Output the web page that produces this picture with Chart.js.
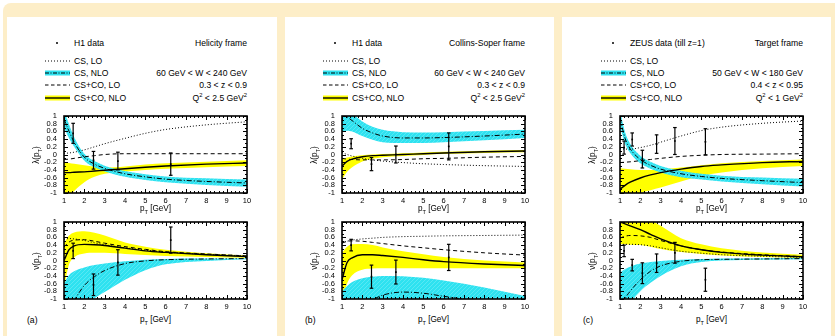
<!DOCTYPE html>
<html>
<head>
<meta charset="utf-8">
<script src="https://cdn.jsdelivr.net/npm/chart.js@4.4.1/dist/chart.umd.min.js"></script>
<style>
  html, body { margin: 0; padding: 0; background: #fff; }
  body { width: 835px; height: 336px; position: relative; overflow: hidden;
         font-family: "Liberation Sans", Arial, Helvetica, sans-serif; color: #000; }
  #bg { position: absolute; left: 3px; top: 3px; width: 860px; height: 360px; background: #fdeec8; border-radius: 8px; }
  .panel { position: absolute; top: 17px; height: 330px; background: #fff; }
  .txt { position: absolute; font-size: 8.6px; line-height: 12px; white-space: nowrap; }
  .ttl { position: absolute; font-size: 8.2px; line-height: 12px; white-space: nowrap; text-align: center; width: 80px; }
  .rot { transform: rotate(-90deg); }
  sub, sup { font-size: 68%; line-height: 0; }
  canvas, svg { position: absolute; }
  .dot { position: absolute; width: 2.4px; height: 2.4px; border-radius: 50%; background: #000; }
</style>
</head>
<body>
<div id="bg"></div>
<div class="panel" style="left:7px;width:270px"></div>
<div class="panel" style="left:285px;width:269px"></div>
<div class="panel" style="left:562px;width:269px"></div>

<script>
// pT grid for the theory curves
const ptGrid = [1, 1.25, 1.5, 2, 2.5, 3, 4, 5, 6, 8, 10];
const xTickValues = [1, 2, 3, 4, 5, 6, 7, 8, 9, 10];
const yTickValues = [-1, -0.8, -0.6, -0.4, -0.2, 0, 0.2, 0.4, 0.6, 0.8, 1];

// (a) helicity frame, H1
const aLamCsLo    = [0.03, 0.04, 0.06, 0.12, 0.2, 0.28, 0.42, 0.55, 0.65, 0.77, 0.85];
const aLamCsNlo   = [0.92, 0.6, 0.32, -0.07, -0.25, -0.36, -0.5, -0.58, -0.64, -0.7, -0.74];
const aLamCsNloHi = [1.15, 0.78, 0.45, 0.02, -0.17, -0.29, -0.43, -0.51, -0.57, -0.62, -0.65];
const aLamCsNloLo = [0.7, 0.42, 0.2, -0.16, -0.33, -0.44, -0.58, -0.66, -0.72, -0.79, -0.84];
const aLamCcLo    = [-0.13, -0.12, -0.1, -0.06, -0.03, 0.0, 0.02, 0.02, 0.02, 0.02, 0.02];
const aLamCcNlo   = [-0.47, -0.47, -0.46, -0.45, -0.43, -0.41, -0.37, -0.33, -0.3, -0.25, -0.22];
const aLamCcNloHi = [-0.2, -0.22, -0.24, -0.28, -0.32, -0.34, -0.31, -0.26, -0.23, -0.19, -0.15];
const aLamCcNloLo = [-1.3, -1.1, -0.95, -0.72, -0.58, -0.5, -0.44, -0.4, -0.37, -0.33, -0.3];
const aNuCsLo    = [0.55, 0.57, 0.56, 0.52, 0.46, 0.41, 0.33, 0.27, 0.22, 0.16, 0.12];
const aNuCsNlo   = [-1.8, -1.35, -1.05, -0.65, -0.42, -0.26, -0.08, -0.01, 0.02, 0.04, 0.05];
const aNuCsNloHi = [-0.58, -0.38, -0.28, -0.18, -0.12, -0.08, -0.02, 0.02, 0.04, 0.05, 0.06];
const aNuCsNloLo = [-3, -2.5, -2, -1.15, -0.98, -0.82, -0.5, -0.25, -0.1, -0.01, 0.03];
const aNuCcLo    = [0.35, 0.48, 0.53, 0.54, 0.5, 0.45, 0.36, 0.29, 0.23, 0.17, 0.12];
const aNuCcNlo   = [0.0, 0.28, 0.38, 0.42, 0.41, 0.39, 0.32, 0.25, 0.21, 0.15, 0.1];
const aNuCcNloHi = [0.45, 0.65, 0.73, 0.76, 0.72, 0.65, 0.47, 0.36, 0.28, 0.19, 0.13];
const aNuCcNloLo = [-0.7, -0.1, 0.08, 0.18, 0.2, 0.2, 0.17, 0.14, 0.12, 0.09, 0.07];
const h1Pt     = [1.45, 2.45, 3.65, 6.25];
const aLamVal  = [0.55, -0.15, -0.17, -0.25];
const aLamErr  = [0.26, 0.23, 0.23, 0.29];
const aNuVal   = [0.25, -0.63, -0.05, 0.53];
const aNuErr   = [0.2, 0.28, 0.33, 0.34];

// (b) Collins-Soper frame, H1
const bLamCsLo    = [0.05, 0.0, -0.04, -0.1, -0.14, -0.17, -0.21, -0.24, -0.26, -0.29, -0.31];
const bLamCsNlo   = [1.1, 0.98, 0.88, 0.68, 0.56, 0.48, 0.43, 0.43, 0.44, 0.48, 0.53];
const bLamCsNloHi = [1.3, 1.17, 1.06, 0.86, 0.72, 0.64, 0.58, 0.57, 0.58, 0.61, 0.64];
const bLamCsNloLo = [0.6, 0.62, 0.6, 0.48, 0.38, 0.32, 0.3, 0.3, 0.32, 0.37, 0.43];
const bLamCcLo    = [-0.1, -0.12, -0.13, -0.14, -0.14, -0.14, -0.13, -0.11, -0.1, -0.07, -0.05];
const bLamCcNlo   = [-0.3, -0.18, -0.12, -0.06, -0.03, -0.02, 0.0, 0.02, 0.04, 0.07, 0.09];
const bLamCcNloHi = [-0.12, -0.08, -0.05, -0.02, 0.0, 0.01, 0.03, 0.05, 0.07, 0.1, 0.12];
const bLamCcNloLo = [-0.65, -0.45, -0.33, -0.18, -0.11, -0.07, -0.04, -0.01, 0.01, 0.04, 0.06];
const bNuCsLo    = [0.45, 0.5, 0.53, 0.56, 0.58, 0.6, 0.62, 0.63, 0.64, 0.65, 0.66];
const bNuCsNlo   = [-1.9, -1.6, -1.4, -1.15, -1.02, -0.9, -0.82, -0.85, -0.93, -1.08, -1.25];
const bNuCsNloHi = [-0.8, -0.66, -0.56, -0.46, -0.42, -0.4, -0.41, -0.45, -0.52, -0.7, -0.92];
const bNuCsNloLo = [-3, -3, -3, -2.5, -2, -2, -2, -2, -2, -2, -2];
const bNuCcLo    = [0.45, 0.5, 0.51, 0.5, 0.47, 0.44, 0.38, 0.33, 0.28, 0.2, 0.14];
const bNuCcNlo   = [-0.5, -0.05, 0.07, 0.15, 0.15, 0.13, 0.08, 0.02, -0.03, -0.09, -0.13];
const bNuCcNloHi = [0.2, 0.36, 0.42, 0.43, 0.4, 0.34, 0.24, 0.16, 0.09, 0.0, -0.05];
const bNuCcNloLo = [-1.1, -0.6, -0.38, -0.24, -0.21, -0.2, -0.2, -0.2, -0.2, -0.2, -0.2];
const bLamVal  = [0.28, -0.25, 0.0, 0.21];
const bLamErr  = [0.13, 0.17, 0.22, 0.35];
const bNuVal   = [0.4, -0.42, -0.3, 0.08];
const bNuErr   = [0.15, 0.3, 0.31, 0.34];

// (c) target frame, ZEUS
const cLamCsLo    = [0.15, 0.14, 0.14, 0.18, 0.24, 0.32, 0.48, 0.62, 0.71, 0.81, 0.87];
const cLamCsNlo   = [0.95, 0.42, 0.15, -0.13, -0.28, -0.38, -0.5, -0.57, -0.62, -0.68, -0.73];
const cLamCsNloHi = [1.15, 0.58, 0.28, -0.03, -0.19, -0.3, -0.42, -0.5, -0.55, -0.6, -0.63];
const cLamCsNloLo = [0.75, 0.28, 0.04, -0.23, -0.37, -0.47, -0.59, -0.65, -0.7, -0.77, -0.83];
const cLamCcLo    = [-0.21, -0.2, -0.19, -0.16, -0.13, -0.1, -0.05, -0.02, 0.0, 0.01, 0.02];
const cLamCcNlo   = [-0.9, -0.8, -0.72, -0.61, -0.53, -0.47, -0.38, -0.31, -0.27, -0.21, -0.18];
const cLamCcNloHi = [-0.36, -0.37, -0.38, -0.4, -0.4, -0.39, -0.34, -0.28, -0.23, -0.17, -0.13];
const cLamCcNloLo = [-1.3, -1.2, -1.12, -1.0, -0.93, -0.86, -0.7, -0.56, -0.47, -0.36, -0.3];
const cNuCsLo    = [0.42, 0.42, 0.42, 0.41, 0.38, 0.33, 0.24, 0.19, 0.15, 0.11, 0.08];
const cNuCsNlo   = [-1.4, -1.0, -0.8, -0.5, -0.28, -0.14, -0.02, 0.02, 0.03, 0.04, 0.05];
const cNuCsNloHi = [-0.32, -0.22, -0.16, -0.08, -0.04, -0.01, 0.02, 0.04, 0.05, 0.06, 0.07];
const cNuCsNloLo = [-2.0, -1.5, -1.15, -0.8, -0.58, -0.4, -0.15, -0.04, 0.0, 0.02, 0.03];
const cNuCcLo    = [0.58, 0.63, 0.65, 0.64, 0.6, 0.52, 0.38, 0.28, 0.22, 0.15, 0.1];
const cNuCcNlo   = [1.0, 0.95, 0.9, 0.8, 0.68, 0.56, 0.38, 0.28, 0.21, 0.14, 0.1];
const cNuCcNloHi = [1.2, 1.2, 1.18, 1.15, 1.05, 0.9, 0.58, 0.42, 0.32, 0.21, 0.15];
const cNuCcNloLo = [0.42, 0.42, 0.41, 0.4, 0.36, 0.3, 0.22, 0.17, 0.13, 0.09, 0.06];
const zeusPt   = [1.2, 1.6, 2.1, 2.8, 3.7, 5.2];
const cLamVal  = [0.18, 0.39, -0.12, 0.27, 0.35, 0.33];
const cLamErr  = [0.17, 0.17, 0.23, 0.24, 0.35, 0.34];
const cNuVal   = [0.25, -0.12, -0.33, -0.07, 0.2, -0.5];
const cNuErr   = [0.15, 0.15, 0.27, 0.24, 0.27, 0.3];

const FONT = '"Liberation Sans", Arial, Helvetica, sans-serif';
const YELLOW = '#ffff00';

function hatch() {
  const c = document.createElement('canvas');
  c.width = 4; c.height = 4;
  const g = c.getContext('2d');
  g.fillStyle = '#2ee2f0';
  g.fillRect(0, 0, 4, 4);
  g.strokeStyle = '#58e8f4';
  g.lineWidth = 1;
  g.beginPath(); g.moveTo(0, 4); g.lineTo(4, 0); g.stroke();
  return g.createPattern(c, 'repeat');
}
const CYAN = hatch();

// gnuplot style frame: thick border, ticks pointing inwards on all four sides
const frameTicks = {
  id: 'frameTicks',
  afterDatasetsDraw(chart) {
    const { ctx, chartArea: a, scales: { x, y } } = chart;
    ctx.save();
    ctx.strokeStyle = '#000';
    ctx.lineWidth = 1;
    ctx.beginPath();
    for (let i = 0; i <= 45; i++) {
      const px = Math.round(x.getPixelForValue(1 + i * 0.2)) + 0.5;
      const len = i % 5 === 0 ? 4 : 2;
      ctx.moveTo(px, a.bottom); ctx.lineTo(px, a.bottom - len);
      ctx.moveTo(px, a.top); ctx.lineTo(px, a.top + len);
    }
    for (let i = 0; i <= 20; i++) {
      const py = Math.round(y.getPixelForValue(-1 + i * 0.1)) + 0.5;
      const len = i % 2 === 0 ? 4 : 2;
      ctx.moveTo(a.left, py); ctx.lineTo(a.left + len, py);
      ctx.moveTo(a.right, py); ctx.lineTo(a.right - len, py);
    }
    ctx.stroke();
    ctx.lineWidth = 1.6;
    ctx.strokeRect(a.left, a.top, a.right - a.left, a.bottom - a.top);
    ctx.restore();
  }
};

function xy(arr) {
  return ptGrid.map((x, i) => ({ x: x, y: arr[i] }));
}

function curve(arr, dash, width) {
  return { data: xy(arr), borderColor: '#000', borderWidth: width, borderDash: dash,
           pointRadius: 0, fill: false, cubicInterpolationMode: 'monotone' };
}

function band(arr, color, target) {
  return { data: xy(arr), borderColor: 'rgba(0,0,0,0)', borderWidth: 0, pointRadius: 0,
           backgroundColor: color, fill: target, cubicInterpolationMode: 'monotone' };
}

function makePlot(left, top, c, pts, vals, errs) {
  const cv = document.createElement('canvas');
  cv.width = 236; cv.height = 97;
  cv.style.left = left + 'px';
  cv.style.top = top + 'px';
  document.body.appendChild(cv);

  const bars = pts.map((x, i) => ({
    data: [{ x: x, y: vals[i] - errs[i] }, { x: x, y: vals[i] + errs[i] }],
    borderColor: '#000', borderWidth: 1.2, fill: false,
    pointStyle: 'line', pointRadius: 1.8, pointBorderWidth: 1.2, pointBorderColor: '#000'
  }));
  const centres = {
    data: pts.map((x, i) => ({ x: x, y: vals[i] })), showLine: false,
    pointStyle: 'rect', pointRadius: 1.2, pointBackgroundColor: '#000', pointBorderWidth: 0
  };

  // index 0 is drawn on top
  const datasets = bars.concat([
    centres,
    curve(c.ccNlo, [], 1.4),
    curve(c.ccLo, [4, 3], 1),
    curve(c.csNlo, [5, 2, 1, 2], 1),
    curve(c.csLo, [1, 2], 1),
    band(c.csNloHi, CYAN, '+1'),
    band(c.csNloLo, CYAN, false),
    band(c.ccNloHi, YELLOW, '+1'),
    band(c.ccNloLo, YELLOW, false)
  ]);

  new Chart(cv, {
    type: 'line',
    data: { datasets: datasets },
    plugins: [frameTicks],
    options: {
      animation: false,
      responsive: false,
      devicePixelRatio: 1,
      layout: { padding: { left: 0, right: 8, top: 6, bottom: 0 } },
      plugins: { legend: { display: false }, tooltip: { enabled: false } },
      scales: {
        x: {
          type: 'linear', min: 1, max: 10,
          grid: { display: false, drawTicks: false }, border: { display: false },
          ticks: { font: { size: 7.5, family: FONT }, color: '#000', padding: 3, maxRotation: 0, autoSkip: false,
                   callback: v => String(v) },
          afterBuildTicks: s => { s.ticks = xTickValues.map(v => ({ value: v })); },
          afterFit: s => { s.height = 14; s.paddingLeft = 0; s.paddingRight = 0; }
        },
        y: {
          type: 'linear', min: -1, max: 1,
          grid: { display: false, drawTicks: false }, border: { display: false },
          ticks: { font: { size: 7.5, family: FONT }, color: '#000', padding: 7, autoSkip: false,
                   callback: v => String(Math.round(v * 10) / 10) },
          afterBuildTicks: s => { s.ticks = yTickValues.map(v => ({ value: v })); },
          afterFit: s => { s.width = 45; s.paddingTop = 0; s.paddingBottom = 0; }
        }
      }
    }
  });
}

function text(html, x, yc, align, cls) {
  const d = document.createElement('div');
  d.className = cls || 'txt';
  d.innerHTML = html;
  d.style.top = (yc - 6) + 'px';
  if (align === 'right') {
    d.style.left = (x - 200) + 'px'; d.style.width = '200px'; d.style.textAlign = 'right';
  } else if (align === 'center') {
    d.style.left = (x - 40) + 'px';
  } else {
    d.style.left = x + 'px';
  }
  document.body.appendChild(d);
  return d;
}

function key(x, yc, kind) {
  const ns = 'http://www.w3.org/2000/svg';
  const s = document.createElementNS(ns, 'svg');
  s.setAttribute('width', '25'); s.setAttribute('height', '8');
  s.style.left = x + 'px'; s.style.top = (yc - 4) + 'px';
  let inner = '';
  if (kind === 'csLo') inner = '<line x1="0" y1="4" x2="25" y2="4" stroke="#000" stroke-width="1" stroke-dasharray="1 2"/>';
  if (kind === 'csNlo') inner = '<rect x="0" y="1.5" width="25" height="5" fill="#2fe2f0"/><line x1="0" y1="4" x2="25" y2="4" stroke="#000" stroke-width="1" stroke-dasharray="4 1.5 1 1.5"/>';
  if (kind === 'ccLo') inner = '<line x1="0" y1="4" x2="25" y2="4" stroke="#000" stroke-width="1" stroke-dasharray="3.5 2.5"/>';
  if (kind === 'ccNlo') inner = '<rect x="0" y="1.5" width="25" height="5" fill="#ffff00"/><line x1="0" y1="4" x2="25" y2="4" stroke="#000" stroke-width="1.4"/>';
  s.innerHTML = inner;
  document.body.appendChild(s);
}

const panels = [
  { ox: 0, tag: '(a)', data: 'H1 data', frame: 'Helicity frame',
    w: '60 GeV &lt; W &lt; 240 GeV', z: '0.3 &lt; z &lt; 0.9', q: 'Q<sup>2</sup> &lt; 2.5 GeV<sup>2</sup>',
    lam: { csLo: aLamCsLo, csNlo: aLamCsNlo, csNloHi: aLamCsNloHi, csNloLo: aLamCsNloLo,
           ccLo: aLamCcLo, ccNlo: aLamCcNlo, ccNloHi: aLamCcNloHi, ccNloLo: aLamCcNloLo },
    nu:  { csLo: aNuCsLo, csNlo: aNuCsNlo, csNloHi: aNuCsNloHi, csNloLo: aNuCsNloLo,
           ccLo: aNuCcLo, ccNlo: aNuCcNlo, ccNloHi: aNuCcNloHi, ccNloLo: aNuCcNloLo },
    pts: h1Pt, lamVal: aLamVal, lamErr: aLamErr, nuVal: aNuVal, nuErr: aNuErr },
  { ox: 278, tag: '(b)', data: 'H1 data', frame: 'Collins-Soper frame',
    w: '60 GeV &lt; W &lt; 240 GeV', z: '0.3 &lt; z &lt; 0.9', q: 'Q<sup>2</sup> &lt; 2.5 GeV<sup>2</sup>',
    lam: { csLo: bLamCsLo, csNlo: bLamCsNlo, csNloHi: bLamCsNloHi, csNloLo: bLamCsNloLo,
           ccLo: bLamCcLo, ccNlo: bLamCcNlo, ccNloHi: bLamCcNloHi, ccNloLo: bLamCcNloLo },
    nu:  { csLo: bNuCsLo, csNlo: bNuCsNlo, csNloHi: bNuCsNloHi, csNloLo: bNuCsNloLo,
           ccLo: bNuCcLo, ccNlo: bNuCcNlo, ccNloHi: bNuCcNloHi, ccNloLo: bNuCcNloLo },
    pts: h1Pt, lamVal: bLamVal, lamErr: bLamErr, nuVal: bNuVal, nuErr: bNuErr },
  { ox: 556, tag: '(c)', data: 'ZEUS data (till z=1)', frame: 'Target frame',
    w: '50 GeV &lt; W &lt; 180 GeV', z: '0.4 &lt; z &lt; 0.95', q: 'Q<sup>2</sup> &lt; 1 GeV<sup>2</sup>',
    lam: { csLo: cLamCsLo, csNlo: cLamCsNlo, csNloHi: cLamCsNloHi, csNloLo: cLamCsNloLo,
           ccLo: cLamCcLo, ccNlo: cLamCcNlo, ccNloHi: cLamCcNloHi, ccNloLo: cLamCcNloLo },
    nu:  { csLo: cNuCsLo, csNlo: cNuCsNlo, csNloHi: cNuCsNloHi, csNloLo: cNuCsNloLo,
           ccLo: cNuCcLo, ccNlo: cNuCcNlo, ccNloHi: cNuCcNloHi, ccNloLo: cNuCcNloLo },
    pts: zeusPt, lamVal: cLamVal, lamErr: cLamErr, nuVal: cNuVal, nuErr: cNuErr }
];

panels.forEach(p => {
  const ox = p.ox;
  // legend block
  const dot = document.createElement('div');
  dot.className = 'dot';
  dot.style.left = (56 + ox) + 'px'; dot.style.top = '41.8px';
  document.body.appendChild(dot);
  text(p.data, 74 + ox, 43);
  text(p.frame, 247 + ox, 43, 'right');
  key(45 + ox, 61, 'csLo');     text('CS, LO', 74 + ox, 61);
  key(45 + ox, 72.5, 'csNlo');  text('CS, NLO', 74 + ox, 72.5);
  key(45 + ox, 85, 'ccLo');     text('CS+CO, LO', 74 + ox, 85);
  key(45 + ox, 97.5, 'ccNlo');  text('CS+CO, NLO', 74 + ox, 97.5);
  text(p.w, 247 + ox, 72.5, 'right');
  text(p.z, 247 + ox, 85, 'right');
  text(p.q, 247 + ox, 97.5, 'right');

  // plots
  makePlot(19 + ox, 110, p.lam, p.pts, p.lamVal, p.lamErr);
  makePlot(19 + ox, 216, p.nu, p.pts, p.nuVal, p.nuErr);

  // axis titles
  text('λ(p<sub>T</sub>)', 37 + ox, 154.5, 'center', 'ttl rot');
  text('ν(p<sub>T</sub>)', 37 + ox, 260.5, 'center', 'ttl rot');
  text('p<sub>T</sub> [GeV]', 155.5 + ox, 209, 'center', 'ttl');
  text('p<sub>T</sub> [GeV]', 155.5 + ox, 320, 'center', 'ttl');
  text(p.tag, 27 + ox, 320);
});
</script>
</body>
</html>
